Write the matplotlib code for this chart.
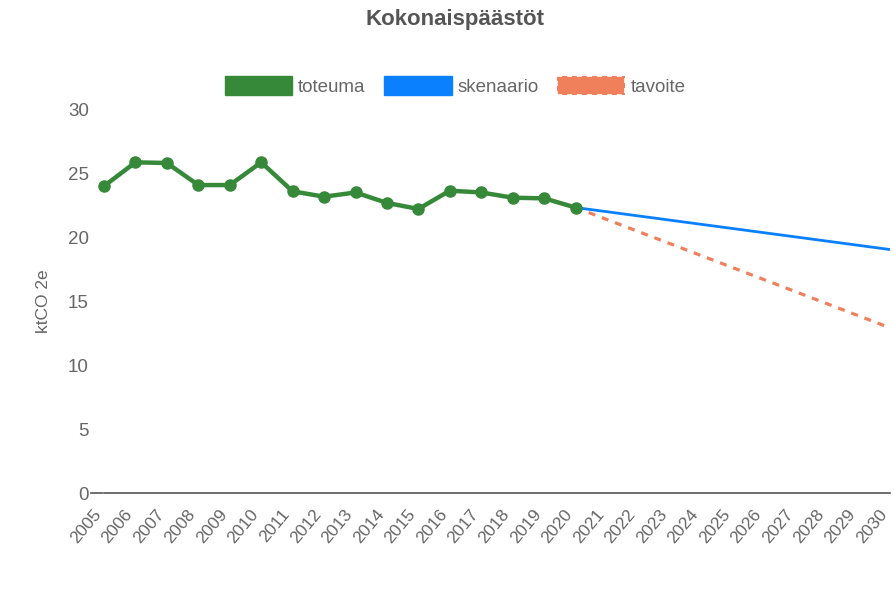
import matplotlib
matplotlib.use("Agg")
import matplotlib.pyplot as plt
from matplotlib.patches import Patch

plt.rcParams['font.family'] = ['Liberation Sans', 'DejaVu Sans']

years_actual = [2005, 2006, 2007, 2008, 2009, 2010, 2011, 2012, 2013, 2014,
                2015, 2016, 2017, 2018, 2019, 2020]
toteuma = [24.04, 25.9, 25.85, 24.12, 24.12, 25.9, 23.63, 23.21, 23.54, 22.72,
           22.25, 23.68, 23.54, 23.13, 23.08, 22.36]
years_proj = [2020, 2030]
skenaario = [22.36, 19.07]
tavoite = [22.36, 12.94]
all_years = list(range(2005, 2031))

title = "Kokonaispäästöt"
ylabel = "ktCO 2e"
c_green = "#37893a"
c_blue = "#0a80ff"
c_salmon = "#f07f5c"
c_text = "#666666"

fig = plt.figure(figsize=(8.94, 6.0), dpi=100)
ax = fig.add_axes([104/894, 1-493/600, (890-104)/894, (493-110)/600])

ax.plot(years_proj, tavoite, color=c_salmon, lw=2.3, ls=(0, (2.2, 2.2)), zorder=2)
ax.plot(years_proj, skenaario, color=c_blue, lw=2.0, zorder=3)
ax.plot(years_actual, toteuma, color=c_green, lw=3.2, marker='o', markersize=8,
        markerfacecolor=c_green, markeredgecolor=c_green, zorder=4, clip_on=False)

ax.set_xlim(2005, 2030)
ax.set_ylim(0, 30)
ax.set_yticks([0, 5, 10, 15, 20, 25, 30])
ax.set_xticks(all_years)
ax.set_xticklabels([str(y) for y in all_years], rotation=50, ha='right', va='bottom',
                   rotation_mode='anchor', fontsize=12.5, color=c_text)
ax.tick_params(axis='x', length=0, pad=17)
ax.tick_params(axis='y', length=0, pad=11, labelsize=13.5, labelcolor=c_text)
for s in ['top', 'right', 'left']:
    ax.spines[s].set_visible(False)
ax.spines['bottom'].set_color('#555555')
ax.spines['bottom'].set_linewidth(1.2)
# small tick at zero
ax.plot([-0.017, -0.003], [0, 0], transform=ax.transAxes, color='#555555',
        lw=1.2, clip_on=False)

ax.set_ylabel(ylabel, fontsize=12.5, color=c_text, labelpad=12)

fig.text(455/894, 1-20/600, title, ha='center', va='center', fontsize=16,
         fontweight='bold', color='#555555')

handles = [Patch(facecolor=c_green, edgecolor=c_green),
           Patch(facecolor=c_blue, edgecolor=c_blue),
           Patch(facecolor=c_salmon, edgecolor='white', linestyle=(0, (3, 3)), linewidth=1.2)]
labels = ["toteuma", "skenaario", "tavoite"]
leg = fig.legend(handles, labels, loc='center', bbox_to_anchor=(455/894, 1-86/600),
                 ncol=3, frameon=False, fontsize=13.5, handlelength=3.6,
                 handleheight=1.15, handletextpad=0.3, columnspacing=1.0,
                 labelcolor=c_text)

fig.savefig("out.png", dpi=100)
